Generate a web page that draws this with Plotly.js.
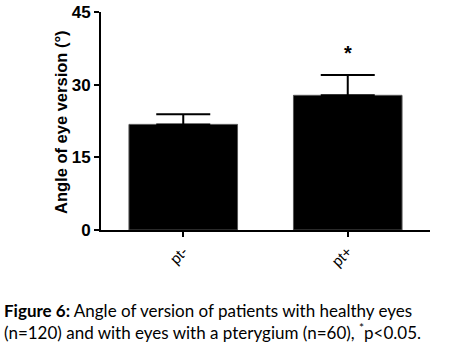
<!DOCTYPE html>
<html>
<head>
<meta charset="utf-8">
<script src="https://cdn.plot.ly/plotly-3.0.1.min.js"></script>
<style>html,body{margin:0;padding:0;background:#fff;}#chart{width:449px;height:363px;}</style>
</head>
<body>
<div id="chart"></div>
<script>
const categories = ["pt-", "pt+"];
const means = [21.8, 27.8];
const errors = [2.1, 4.2];
const yTicks = [0, 15, 30, 45];
const sigLabel = "*";
const sigY = 36.5;
const yTitle = "Angle of eye version (°)";

const trace = {
  type: "bar",
  x: categories,
  y: means,
  width: 0.66,
  marker: {color: "#000", line: {color: "#555", width: 1}},
  error_y: {type: "data", array: errors, symmetric: false, arrayminus: [0, 0], color: "#000", thickness: 2, width: 27},
  hoverinfo: "none"
};

const plotW = 449 - 101 - 19;
const plotH = 363 - 12 - 133;

const layout = {
  width: 449, height: 363,
  margin: {l: 101, r: 19, t: 12, b: 133},
  paper_bgcolor: "#fff", plot_bgcolor: "#fff",
  showlegend: false,
  font: {family: "Liberation Sans, Arial, sans-serif", color: "#000"},
  xaxis: {
    type: "category", range: [-0.5, 1.5],
    showline: true, linecolor: "#000", linewidth: 2,
    ticks: "outside", ticklen: 5, tickwidth: 2, tickcolor: "#000",
    tickangle: -45, tickfont: {size: 15, family: "Liberation Sans, Arial, sans-serif"},
    showgrid: false, zeroline: false, fixedrange: true
  },
  yaxis: {
    range: [0, 45], tickvals: yTicks, ticktext: yTicks.map(String),
    showline: true, linecolor: "#000", linewidth: 2,
    ticks: "outside", ticklen: 5, tickwidth: 2, tickcolor: "#000",
    tickfont: {size: 17, weight: "bold"},
    showgrid: false, zeroline: false
  },
  annotations: [
    {x: categories[1], y: sigY, xref: "x", yref: "y", text: sigLabel, showarrow: false, font: {size: 20, weight: "bold"}},
    {x: (61 - 101) / plotW, y: (230 - 122) / plotH, xref: "paper", yref: "paper", xanchor: "center", yanchor: "middle",
     textangle: -90, showarrow: false, text: yTitle, font: {size: 16.5, weight: "bold"}},
    {x: (2 - 101) / plotW, y: (363 - 133 - 298) / plotH, xref: "paper", yref: "paper", xanchor: "left", yanchor: "top", showarrow: false, align: "left",
     text: "<b>Figure 6:</b> Angle of version of patients with healthy eyes<br>(n=120) and with eyes with a pterygium (n=60), <sup>*</sup>p&lt;0.05.",
     font: {family: "Lato, Open Sans, sans-serif", size: 17}}
  ]
};

Plotly.newPlot("chart", [trace], layout, {displayModeBar: false, staticPlot: true});
</script>
</body>
</html>
